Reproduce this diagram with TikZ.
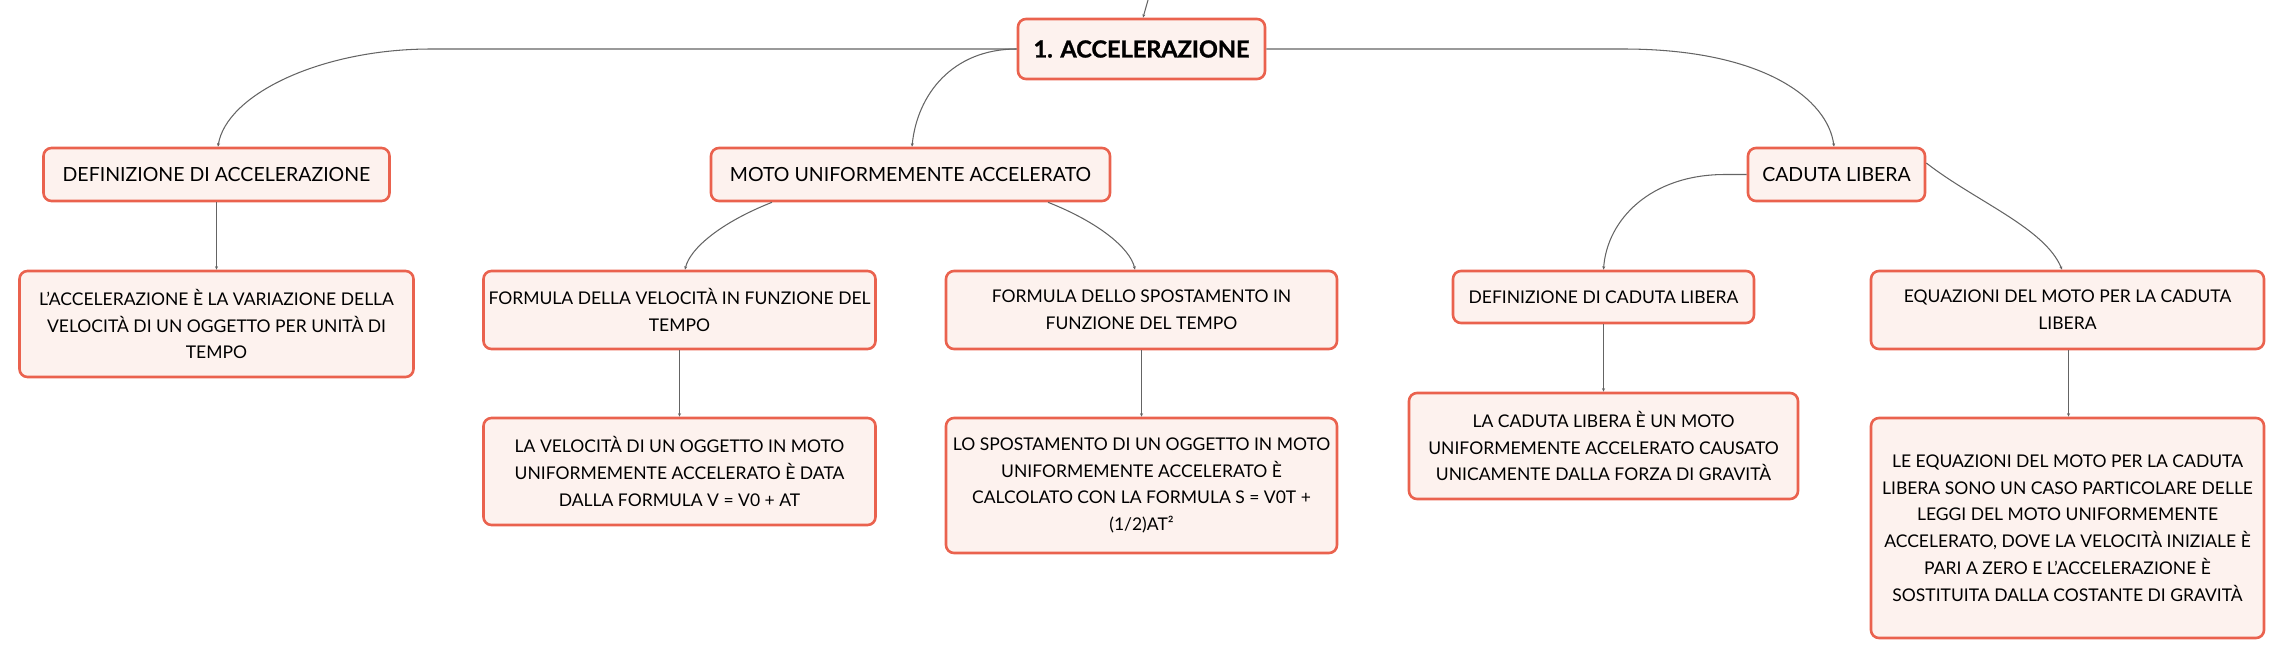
\documentclass[tikz,border=0pt]{standalone}
\usepackage{fontspec}
\setmainfont{Lato}
\newfontfamily\rootfont[BoldFeatures={FakeBold=1.2}]{Lato}
\usetikzlibrary{arrows.meta,calc}
\definecolor{boxborder}{RGB}{234,98,78}
\definecolor{boxfill}{RGB}{253,242,238}
\definecolor{linkcol}{RGB}{100,100,100}
\tikzset{
  box/.style={draw=boxborder, fill=boxfill, line width=2.6pt, rounded corners=8pt,
    align=center, inner sep=0pt, text=black},
  lvlone/.style={box, font=\fontsize{19.5}{26}\selectfont},
  lvltwo/.style={box, font=\fontsize{17.5}{26.7}\selectfont},
  rootbox/.style={box, font=\fontsize{23.5}{30}\rootfont\bfseries},
  link/.style={draw=linkcol, line width=1.05pt, -{Stealth[length=3.5pt,width=3pt]}},
}
\begin{document}
\begin{tikzpicture}[x=1pt,y=-1pt]
\useasboundingbox (0,0) rectangle (2284,659);
% nodes
\node[rootbox, minimum width=247pt, minimum height=60pt] (root) at (1141.5,49) {1. ACCELERAZIONE};
\node[lvlone, minimum width=346pt, minimum height=53pt] (def) at (216.5,174.5) {DEFINIZIONE DI ACCELERAZIONE};
\node[lvlone, minimum width=399pt, minimum height=53pt] (moto) at (910.5,174.5) {MOTO UNIFORMEMENTE ACCELERATO};
\node[lvlone, minimum width=177pt, minimum height=53pt] (cad) at (1836.5,174.5) {CADUTA LIBERA};
\node[lvltwo, minimum width=394pt, minimum height=106pt] (lacc) at (216.5,324) {L’ACCELERAZIONE È LA VARIAZIONE DELLA\\VELOCITÀ DI UN OGGETTO PER UNITÀ DI\\TEMPO};
\node[lvltwo, minimum width=392pt, minimum height=78pt] (fvel) at (679.5,310) {FORMULA DELLA VELOCITÀ IN FUNZIONE DEL\\TEMPO};
\node[lvltwo, minimum width=391pt, minimum height=78pt] (fspo) at (1141.5,310) {FORMULA DELLO SPOSTAMENTO IN\\FUNZIONE DEL TEMPO};
\node[lvltwo, minimum width=301pt, minimum height=52pt] (dcad) at (1603.5,297) {DEFINIZIONE DI CADUTA LIBERA};
\node[lvltwo, minimum width=393pt, minimum height=78pt] (equ) at (2067.5,310) {EQUAZIONI DEL MOTO PER LA CADUTA\\LIBERA};
\node[lvltwo, minimum width=392pt, minimum height=107pt] (lvel) at (679.5,471.5) {LA VELOCITÀ DI UN OGGETTO IN MOTO\\UNIFORMEMENTE ACCELERATO È DATA\\DALLA FORMULA V = V0 + AT};
\node[lvltwo, minimum width=391pt, minimum height=135pt] (lspo) at (1141.5,485.5) {LO SPOSTAMENTO DI UN OGGETTO IN MOTO\\UNIFORMEMENTE ACCELERATO È\\CALCOLATO CON LA FORMULA S = V0T +\\(1/2)AT²};
\node[lvltwo, minimum width=389pt, minimum height=106pt] (lcad) at (1603.5,446) {LA CADUTA LIBERA È UN MOTO\\UNIFORMEMENTE ACCELERATO CAUSATO\\UNICAMENTE DALLA FORZA DI GRAVITÀ};
\node[lvltwo, minimum width=393pt, minimum height=220pt] (leq) at (2067.5,528) {LE EQUAZIONI DEL MOTO PER LA CADUTA\\LIBERA SONO UN CASO PARTICOLARE DELLE\\LEGGI DEL MOTO UNIFORMEMENTE\\ACCELERATO, DOVE LA VELOCITÀ INIZIALE È\\PARI A ZERO E L’ACCELERAZIONE È\\SOSTITUITA DALLA COSTANTE DI GRAVITÀ};
% connectors
\coordinate (topin) at (1148,0);
\draw[link] (topin) -- ([xshift=1.5pt]root.north);
\draw[link] (root.west) -- (431,49) .. controls (320,49) and (226,95) .. ([xshift=1.5pt]def.north);
\draw[link] (root.west) .. controls (952,49) and (917,95) .. ([xshift=1.5pt]moto.north);
\draw[link] (root.east) -- (1623,49) .. controls (1765,49) and (1828,100) .. ([xshift=-2.5pt]cad.north);
\draw[link] (def.south) -- (lacc.north);
\draw[link] ([xshift=-138.5pt]moto.south) .. controls (722,222) and (690,248) .. ([xshift=5.5pt]fvel.north);
\draw[link] ([xshift=137.5pt]moto.south) .. controls (1098,222) and (1130,248) .. ([xshift=-6.5pt]fspo.north);
\draw[link] (fvel.south) -- (lvel.north);
\draw[link] (fspo.south) -- (lspo.north);
\draw[link] (cad.west) -- (1725,174.5) .. controls (1650,174.5) and (1607,220) .. (dcad.north);
\draw[link] ([yshift=11.5pt]cad.east) .. controls (1975,201) and (2045,228) .. ([xshift=-5.5pt]equ.north);
\draw[link] (dcad.south) -- (lcad.north);
\draw[link] ([xshift=1pt]equ.south) -- ([xshift=1pt]leq.north);
\end{tikzpicture}
\end{document}
